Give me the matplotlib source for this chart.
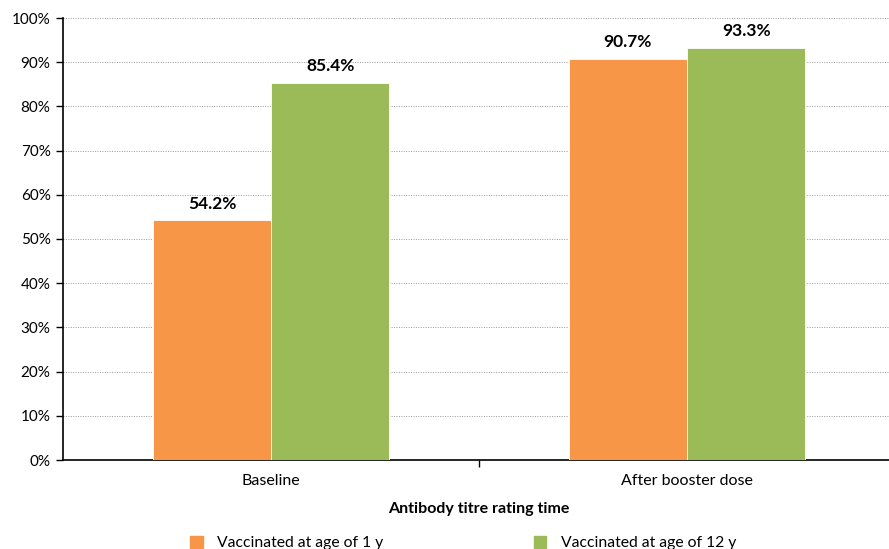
import numpy as np
import matplotlib.pyplot as plt
from matplotlib.patches import Rectangle
from matplotlib.ticker import FuncFormatter, MultipleLocator

categories = ["Baseline", "After booster dose"]
series_names = ["Vaccinated at age of 1 y", "Vaccinated at age of 12 y"]
age1 = [54.2, 90.7]
age12 = [85.4, 93.3]
colors = ["#F79646", "#9BBB59"]

plt.rcParams["font.family"] = ["Lato", "DejaVu Sans"]

fig = plt.figure(figsize=(8.89, 5.49), dpi=100)
ax = fig.add_axes([63 / 889, 89 / 549, 832 / 889, 442 / 549])

x = np.arange(len(categories))
w = 0.284

b1 = ax.bar(x - w / 2, age1, w, color=colors[0], edgecolor="white", linewidth=0.6, zorder=3)
b2 = ax.bar(x + w / 2, age12, w, color=colors[1], edgecolor="white", linewidth=0.6, zorder=3)

# value labels above bars
for bars, vals in [(b1, age1), (b2, age12)]:
    for bar, v in zip(bars, vals):
        ax.text(bar.get_x() + bar.get_width() / 2, v + 2.0, f"{v:.1f}%",
                ha="center", va="bottom", fontsize=12.5, fontweight="bold")

ax.set_xlim(-0.5, 1.5)
ax.set_ylim(0, 100)
ax.yaxis.set_major_locator(MultipleLocator(10))
ax.yaxis.set_major_formatter(FuncFormatter(lambda v, p: f"{v:.0f}%"))
ax.grid(axis="y", color="#999999", linestyle=(0, (1, 1.5)), linewidth=0.7, zorder=0)

ax.set_xticks(x)
ax.set_xticklabels(categories, fontsize=11.5)
ax.set_xticks([0.5], minor=True)
ax.tick_params(axis="x", which="major", length=0, pad=10)
ax.tick_params(axis="x", which="minor", length=5, width=1, direction="out")
ax.tick_params(axis="y", length=5, width=1, direction="out", labelsize=11, pad=4)

for s in ["top", "right"]:
    ax.spines[s].set_visible(False)
ax.spines["left"].set_linewidth(1.2)
ax.spines["bottom"].set_linewidth(1.2)

ax.set_xlabel("Antibody titre rating time", fontsize=11.5, fontweight="bold", labelpad=10)

handles = [Rectangle((0, 0), 1, 1, color=c) for c in colors]
fig.legend(handles, series_names, loc="center", bbox_to_anchor=(0.521, 6 / 549),
           ncol=2, frameon=False, fontsize=11.3, handlelength=0.8, handleheight=0.8,
           columnspacing=9.6, handletextpad=0.9)

fig.savefig("out.png", dpi=100)
